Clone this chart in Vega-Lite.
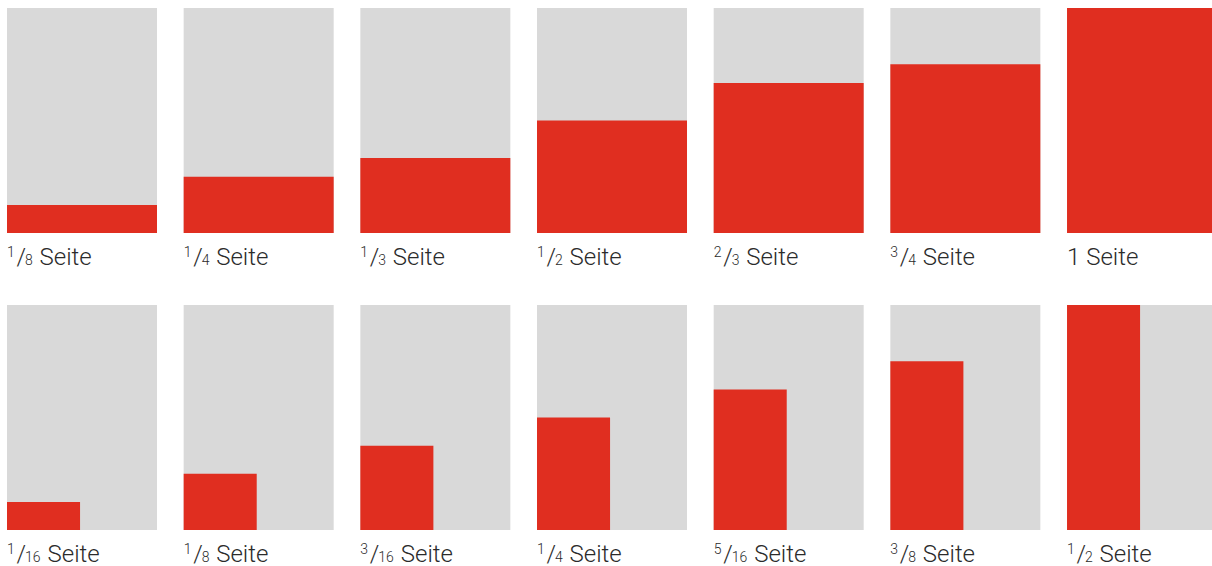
{
  "$schema": "https://vega.github.io/schema/vega-lite/v6.json",
  "padding": {"left": 7, "top": 8, "right": 0, "bottom": 0},
  "bounds": "flush",
  "config": {
    "view": {"fill": "#d9d9d9", "stroke": null},
    "header": {"labels": false, "labelFontSize": 0, "labelPadding": 0, "titlePadding": 0, "labelExpr": "''"},
    "headerFacet": {"labels": false, "labelFontSize": 0, "labelPadding": 0, "titlePadding": 0, "labelExpr": "''"},
    "text": {"font": "Roboto", "fontWeight": 300, "color": "#2b2b2b", "align": "left", "baseline": "alphabetic"}
  },
  "data": {
    "values": [
      {"panel": 1, "num": 1, "den": 8, "w": 1, "h": 0.125},
      {"panel": 2, "num": 1, "den": 4, "w": 1, "h": 0.25},
      {"panel": 3, "num": 1, "den": 3, "w": 1, "h": 0.3333},
      {"panel": 4, "num": 1, "den": 2, "w": 1, "h": 0.5},
      {"panel": 5, "num": 2, "den": 3, "w": 1, "h": 0.6667},
      {"panel": 6, "num": 3, "den": 4, "w": 1, "h": 0.75},
      {"panel": 7, "whole": "1 Seite", "w": 1, "h": 1},
      {"panel": 8, "num": 1, "den": 16, "w": 0.487, "h": 0.125},
      {"panel": 9, "num": 1, "den": 8, "w": 0.487, "h": 0.25},
      {"panel": 10, "num": 3, "den": 16, "w": 0.487, "h": 0.375},
      {"panel": 11, "num": 1, "den": 4, "w": 0.487, "h": 0.5},
      {"panel": 12, "num": 5, "den": 16, "w": 0.487, "h": 0.625},
      {"panel": 13, "num": 3, "den": 8, "w": 0.487, "h": 0.75},
      {"panel": 14, "num": 1, "den": 2, "w": 0.487, "h": 1}
    ]
  },
  "facet": {"field": "panel", "type": "ordinal", "header": {"labels": false, "title": null, "labelFontSize": 0, "labelPadding": 0, "titlePadding": 0, "labelExpr": "''"}},
  "columns": 7,
  "spacing": {"row": 72, "column": 26.67},
  "spec": {
    "width": 150,
    "height": 225,
    "layer": [
      {
        "mark": {"type": "rect", "color": "#e02e20"},
        "encoding": {
          "x": {"field": "w", "type": "quantitative", "scale": {"domain": [0, 1], "nice": false, "zero": false}, "axis": null},
          "x2": {"datum": 0},
          "y": {"field": "h", "type": "quantitative", "scale": {"domain": [0, 1], "nice": false, "zero": false}, "axis": null},
          "y2": {"datum": 0}
        }
      },
      {
        "transform": [{"filter": "isValid(datum.num)"}],
        "mark": {"type": "text", "fontSize": 14, "dy": -8},
        "encoding": {
          "x": {"datum": 0, "type": "quantitative"},
          "y": {"datum": -0.1422, "type": "quantitative"},
          "text": {"field": "num", "type": "nominal"}
        }
      },
      {
        "transform": [{"filter": "isValid(datum.num)"}],
        "mark": {"type": "text", "fontSize": 24, "dx": 9.5, "text": "/"},
        "encoding": {
          "x": {"datum": 0, "type": "quantitative"},
          "y": {"datum": -0.1422, "type": "quantitative"}
        }
      },
      {
        "transform": [{"filter": "isValid(datum.den)"}],
        "mark": {"type": "text", "fontSize": 14, "dx": 18},
        "encoding": {
          "x": {"datum": 0, "type": "quantitative"},
          "y": {"datum": -0.1422, "type": "quantitative"},
          "text": {"field": "den", "type": "nominal"}
        }
      },
      {
        "transform": [{"filter": "isValid(datum.den) && datum.den < 10"}],
        "mark": {"type": "text", "fontSize": 24, "dx": 32.5, "text": "Seite"},
        "encoding": {
          "x": {"datum": 0, "type": "quantitative"},
          "y": {"datum": -0.1422, "type": "quantitative"}
        }
      },
      {
        "transform": [{"filter": "isValid(datum.den) && datum.den >= 10"}],
        "mark": {"type": "text", "fontSize": 24, "dx": 40.5, "text": "Seite"},
        "encoding": {
          "x": {"datum": 0, "type": "quantitative"},
          "y": {"datum": -0.1422, "type": "quantitative"}
        }
      },
      {
        "transform": [{"filter": "isValid(datum.whole)"}],
        "mark": {"type": "text", "fontSize": 24},
        "encoding": {
          "x": {"datum": 0, "type": "quantitative"},
          "y": {"datum": -0.1422, "type": "quantitative"},
          "text": {"field": "whole", "type": "nominal"}
        }
      }
    ]
  }
}
